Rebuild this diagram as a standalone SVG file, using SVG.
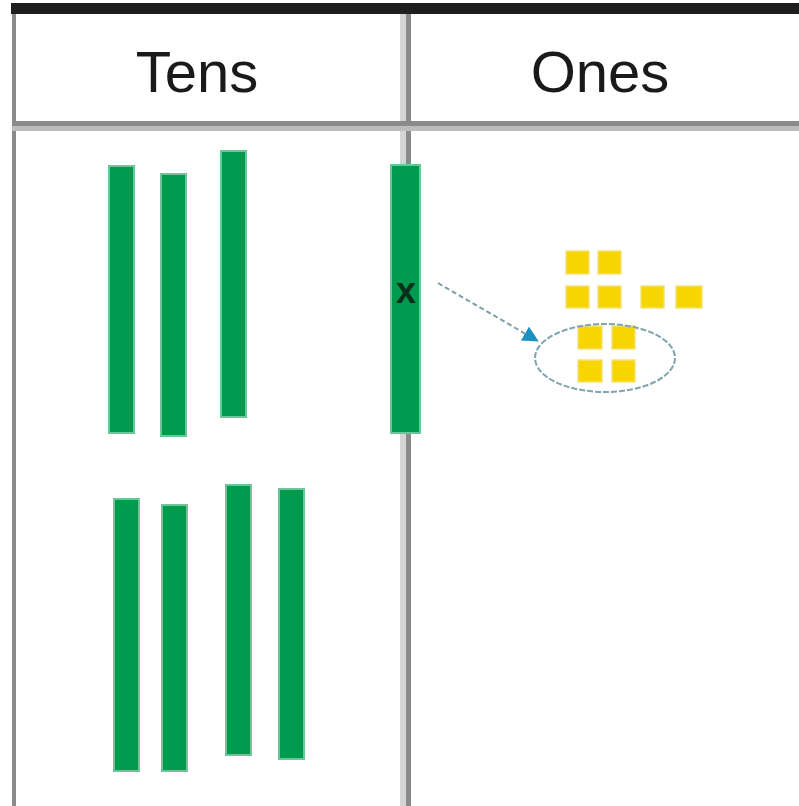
<svg xmlns="http://www.w3.org/2000/svg" width="799" height="806" viewBox="0 0 799 806">
  <style>
    .rod { fill: #009a4e; stroke: #6fc49a; stroke-width: 2; }
    .one { fill: #f7d500; stroke: #f3e27a; stroke-width: 1.5; }
    .hdr { font-family: "Liberation Sans", Arial, sans-serif; font-size: 58px; fill: #1a1a1a; text-anchor: middle; }
  </style>
  <defs>
    <marker id="tip" viewBox="0 0 10 10" refX="8" refY="5" markerWidth="8" markerHeight="8" orient="auto" markerUnits="strokeWidth">
      <path d="M0,0 L10,5 L0,10 z" fill="#1d8fc0"/>
    </marker>
  </defs>
  <rect width="799" height="806" fill="#ffffff"/>

  <!-- table frame -->
  <g id="table">
    <rect x="11" y="3" width="788" height="11" fill="#1e1e1e"/>
    <rect x="12" y="14" width="4" height="792" fill="#8a8a8a"/>
    <rect x="400" y="14" width="6" height="792" fill="#d4d4d4"/>
    <rect x="406" y="14" width="5" height="792" fill="#8a8a8a"/>
    <rect x="12" y="121" width="787" height="5" fill="#8a8a8a"/>
    <rect x="12" y="126" width="787" height="5" fill="#bdbdbd"/>
    <text class="hdr" x="197" y="92">Tens</text>
    <text class="hdr" x="600" y="92">Ones</text>
  </g>

  <!-- tens rods -->
  <g id="tens">
    <rect class="rod" x="109" y="166" width="25" height="267"/>
    <rect class="rod" x="161" y="174" width="25" height="262"/>
    <rect class="rod" x="221" y="151" width="25" height="266"/>
    <rect class="rod" x="114" y="499" width="25" height="272"/>
    <rect class="rod" x="162" y="505" width="25" height="266"/>
    <rect class="rod" x="226" y="485" width="25" height="270"/>
    <rect class="rod" x="279" y="489" width="25" height="270"/>
  </g>

  <!-- rod being traded -->
  <g id="traded-rod">
    <rect class="rod" x="391" y="165" width="29" height="268"/>
    <text x="406" y="303" font-family="Liberation Sans, Arial, sans-serif" font-size="36" font-weight="bold" fill="#06301a" text-anchor="middle">x</text>
  </g>

  <!-- ones cubes -->
  <g id="ones">
    <rect class="one" x="566" y="251" width="23" height="23"/>
    <rect class="one" x="598" y="251" width="23" height="23"/>
    <rect class="one" x="566" y="286" width="23" height="22"/>
    <rect class="one" x="598" y="286" width="23" height="22"/>
    <rect class="one" x="641" y="286" width="23" height="22"/>
    <rect class="one" x="676" y="286" width="26" height="22"/>
    <rect class="one" x="578" y="326" width="24" height="23"/>
    <rect class="one" x="612" y="326" width="23" height="23"/>
    <rect class="one" x="578" y="360" width="24" height="22"/>
    <rect class="one" x="612" y="360" width="23" height="22"/>
  </g>

  <!-- group of ten new ones -->
  <g id="ring">
    <ellipse cx="605" cy="358" rx="70" ry="34" fill="none" stroke="#7fa6b0" stroke-width="2" stroke-dasharray="6 2"/>
  </g>

  <g id="connectors">
    <line x1="438" y1="283" x2="536" y2="340" stroke="#7d9ea8" stroke-width="2" stroke-dasharray="5 3" marker-end="url(#tip)"/>
  </g>
</svg>
